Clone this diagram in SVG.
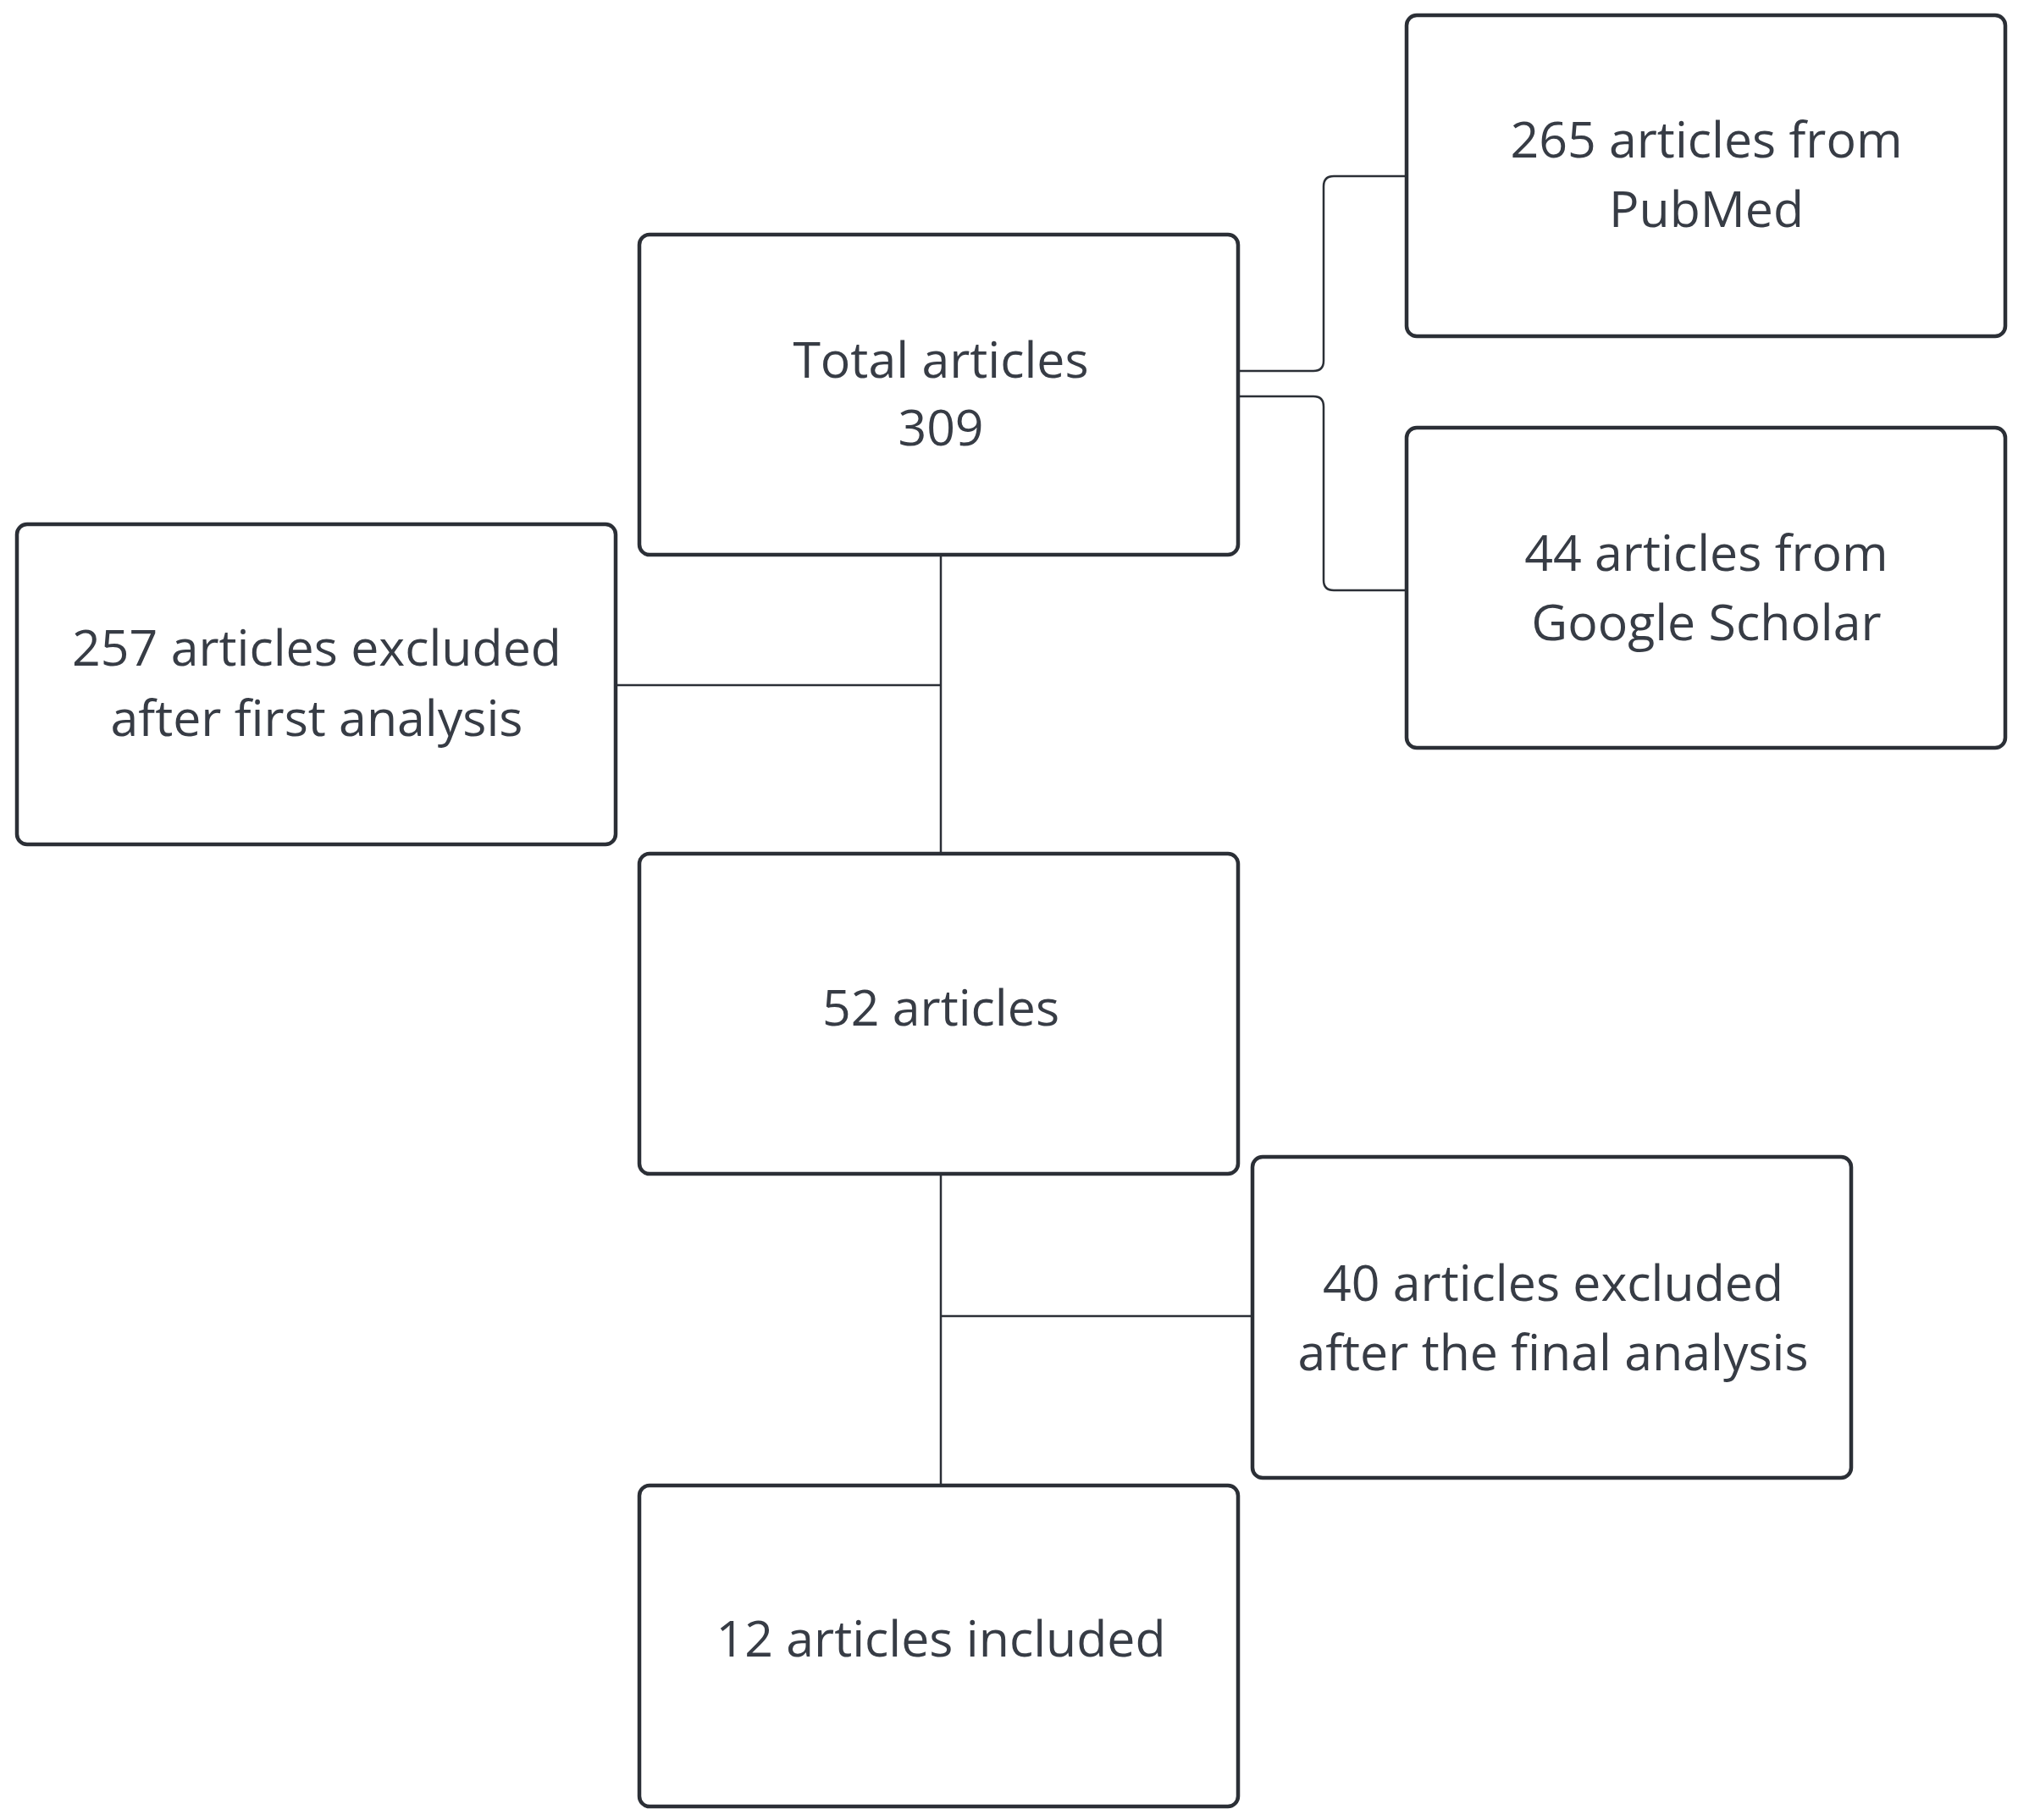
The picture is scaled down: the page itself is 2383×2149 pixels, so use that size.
<svg xmlns="http://www.w3.org/2000/svg" width="2383" height="2149" viewBox="0 0 2383 2149">
<style>
.b{fill:#fff;stroke:#2b2f36;stroke-width:4.5}
.t{font-family:"Open Sans",sans-serif;font-size:59px;fill:#373c45;text-anchor:middle;dominant-baseline:central}
.c{fill:none;stroke:#2b2f36;stroke-width:2.5}
</style>
<rect width="2383" height="2149" fill="#fff"/>
<g id="connectors">
<path class="c" d="M1111 655V1008M727 809H1111M1111 1386V1754M1111 1554H1479"/>
<path class="c" d="M1462 438H1551Q1563 438 1563 426V220Q1563 208 1575 208H1661"/>
<path class="c" d="M1462 468H1551Q1563 468 1563 480V685Q1563 697 1575 697H1661"/>
</g>
<g id="total"><rect class="b" x="755" y="277" width="707" height="378" rx="12"/><text class="t" x="1111" y="423">Total articles</text><text class="t" x="1111" y="503">309</text></g>
<g id="pubmed"><rect class="b" x="1661" y="18" width="707" height="379" rx="12"/><text class="t" x="2015" y="163">265 articles from</text><text class="t" x="2015" y="245">PubMed</text></g>
<g id="google"><rect class="b" x="1661" y="505" width="707" height="378" rx="12"/><text class="t" x="2015" y="651">44 articles from</text><text class="t" x="2015" y="733">Google Scholar</text></g>
<g id="excl1"><rect class="b" x="20" y="619" width="707" height="378" rx="12"/><text class="t" x="374" y="763">257 articles excluded</text><text class="t" x="374" y="846">after first analysis</text></g>
<g id="a52"><rect class="b" x="755" y="1008" width="707" height="378" rx="12"/><text class="t" x="1111" y="1188">52 articles</text></g>
<g id="excl2"><rect class="b" x="1479" y="1366" width="707" height="379" rx="12"/><text class="t" x="1834" y="1513">40 articles excluded</text><text class="t" x="1834" y="1595">after the final analysis</text></g>
<g id="a12"><rect class="b" x="755" y="1754" width="707" height="379" rx="12"/><text class="t" x="1111" y="1933">12 articles included</text></g>
</svg>
